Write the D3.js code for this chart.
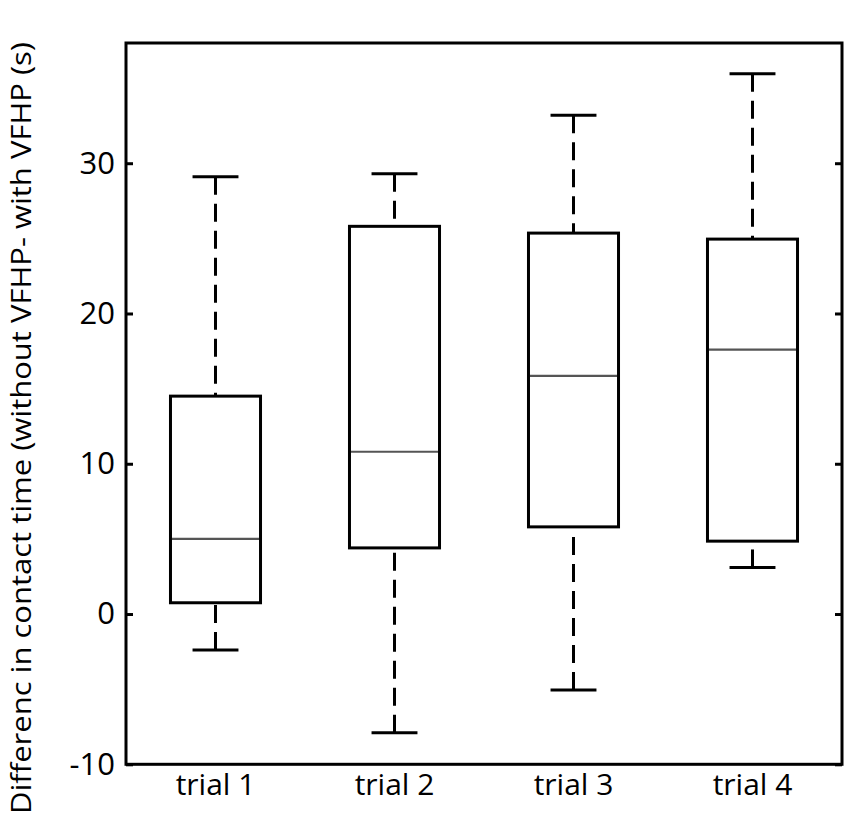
<!DOCTYPE html>
<html><head><meta charset="utf-8">
<script src="https://cdn.jsdelivr.net/npm/d3@7"></script>
<style>body{margin:0;background:#fff}</style>
</head><body>
<svg id="c" width="850" height="819"></svg>
<script>
const categories = ["trial 1","trial 2","trial 3","trial 4"];
const whiskerLow  = [-2.4, -7.9, -5.05, 3.1];
const q1          = [0.75, 4.4, 5.8, 4.85];
const median      = [5.0, 10.8, 15.85, 17.6];
const q3          = [14.5, 25.8, 25.35, 24.95];
const whiskerHigh = [29.1, 29.3, 33.2, 35.95];
const yTicks = [-10, 0, 10, 20, 30];
const yTickLabels = ["-10", "0", "10", "20", "30"];
const yLabel = "Differenc in contact time (without VFHP- with VFHP (s)";

const svg = d3.select("#c");
const L = 126, R = 842, T = 43, B = 764.3;
const x = d3.scaleBand().domain(categories).range([L, R]).padding(0);
const y = d3.scaleLinear().domain([-10, 38]).range([B, T]);
const font = "'Open Sans', sans-serif";

const bw = x.bandwidth() * 0.503;
const cw = bw * 0.51;

const data = categories.map((c, i) => ({c, lo: whiskerLow[i], q1: q1[i], med: median[i], q3: q3[i], hi: whiskerHigh[i]}));

const g = svg.append("g");
data.forEach(d => {
  const cx = x(d.c) + x.bandwidth() / 2;
  g.append("line").attr("x1", cx).attr("x2", cx).attr("y1", y(d.hi)).attr("y2", y(d.q3))
    .attr("stroke", "#000").attr("stroke-width", 3).attr("stroke-dasharray", "18,9");
  g.append("line").attr("x1", cx).attr("x2", cx).attr("y1", y(d.lo)).attr("y2", y(d.q1))
    .attr("stroke", "#000").attr("stroke-width", 3).attr("stroke-dasharray", "18,9");
  [d.hi, d.lo].forEach(v => {
    g.append("line").attr("x1", cx - cw / 2).attr("x2", cx + cw / 2).attr("y1", y(v)).attr("y2", y(v))
      .attr("stroke", "#000").attr("stroke-width", 3);
  });
  g.append("rect").attr("x", cx - bw / 2).attr("width", bw).attr("y", y(d.q3)).attr("height", y(d.q1) - y(d.q3))
    .attr("fill", "none").attr("stroke", "#000").attr("stroke-width", 3);
  g.append("line").attr("x1", cx - bw / 2 + 1.5).attr("x2", cx + bw / 2 - 1.5).attr("y1", y(d.med)).attr("y2", y(d.med))
    .attr("stroke", "#555").attr("stroke-width", 2.2);
});

const yAxisL = d3.axisLeft(y).tickValues(yTicks).tickSizeInner(-7).tickSizeOuter(0).tickPadding(11)
  .tickFormat((d, i) => yTickLabels[i]);
const gy = svg.append("g").attr("transform", `translate(${L},0)`).call(yAxisL);
gy.select(".domain").remove();
gy.selectAll(".tick line").attr("stroke", "#000").attr("stroke-width", 3);
gy.selectAll(".tick text").attr("font-family", font).attr("font-size", 31).attr("fill", "#000");

const yAxisR = d3.axisRight(y).tickValues(yTicks).tickSizeInner(-7).tickSizeOuter(0).tickFormat("");
const gyr = svg.append("g").attr("transform", `translate(${R},0)`).call(yAxisR);
gyr.select(".domain").remove();
gyr.selectAll(".tick line").attr("stroke", "#000").attr("stroke-width", 3);

const xAxis = d3.axisBottom(x).tickSize(0).tickPadding(9);
const gx = svg.append("g").attr("transform", `translate(0,${B})`).call(xAxis);
gx.select(".domain").remove();
gx.selectAll(".tick text").attr("font-family", font).attr("font-size", 30).attr("fill", "#000");

svg.append("rect").attr("x", L).attr("y", T).attr("width", R - L).attr("height", B - T)
  .attr("fill", "none").attr("stroke", "#000").attr("stroke-width", 3);

svg.append("text").attr("transform", `translate(31,${(42 + 814) / 2}) rotate(-90)`)
  .attr("text-anchor", "middle").attr("font-family", font).attr("font-size", 28).attr("fill", "#000")
  .attr("textLength", 772).attr("lengthAdjust", "spacingAndGlyphs").text(yLabel);
</script>
</body></html>
